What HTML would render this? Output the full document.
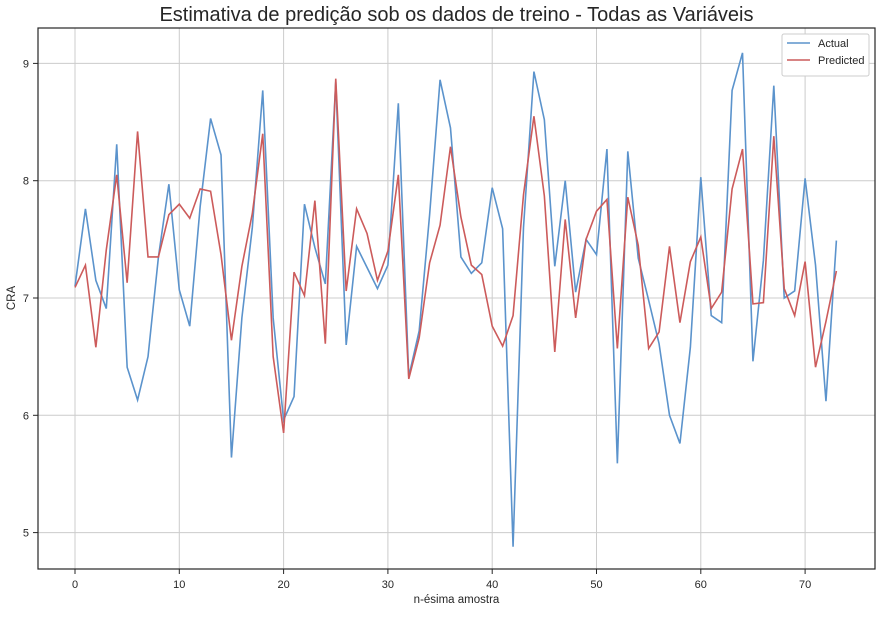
<!DOCTYPE html>
<html><head><meta charset="utf-8"><style>
body{margin:0;background:#fff;font-family:"Liberation Sans",sans-serif;}
svg text{font-family:"Liberation Sans",sans-serif;fill:#262626;}
</style></head><body>
<svg id="c" width="881" height="612"></svg>
<script>
const actual=[7.10,7.76,7.15,6.91,8.31,6.41,6.13,6.50,7.35,7.97,7.07,6.76,7.78,8.53,8.22,5.64,6.83,7.60,8.77,6.83,5.96,6.16,7.80,7.43,7.12,8.84,6.60,7.44,7.26,7.08,7.28,8.66,6.33,6.72,7.71,8.86,8.45,7.35,7.21,7.30,7.94,7.59,4.88,7.60,8.93,8.52,7.27,8.00,7.05,7.50,7.37,8.27,5.59,8.25,7.34,6.98,6.61,6.00,5.76,6.58,8.03,6.85,6.79,8.77,9.09,6.46,7.32,8.81,7.00,7.06,8.02,7.28,6.12,7.49];
const predicted=[7.09,7.28,6.58,7.41,8.05,7.13,8.42,7.35,7.35,7.71,7.80,7.68,7.93,7.91,7.37,6.64,7.27,7.72,8.40,6.50,5.85,7.22,7.02,7.83,6.61,8.87,7.06,7.76,7.55,7.15,7.40,8.05,6.31,6.66,7.30,7.62,8.29,7.69,7.28,7.20,6.76,6.59,6.85,7.88,8.55,7.87,6.54,7.67,6.83,7.50,7.74,7.84,6.57,7.86,7.45,6.57,6.71,7.44,6.79,7.31,7.52,6.91,7.05,7.93,8.27,6.95,6.96,8.38,7.08,6.85,7.31,6.41,6.80,7.23];
const xTicks=[0,10,20,30,40,50,60,70];
const yTicks=[5,6,7,8,9];
const svg=document.getElementById('c');const NS='http://www.w3.org/2000/svg';
const L=38,T=28,R=875,B=569;
const X=v=>75+v*10.43, Y=v=>298-(v-7)*117.3;
function mk(t,a,p){const e=document.createElementNS(NS,t);for(const k in a)e.setAttribute(k,a[k]);(p||svg).appendChild(e);return e;}
xTicks.forEach(t=>{const g=mk('line',{x1:X(t),x2:X(t),y1:T,y2:B,stroke:'#cccccc','stroke-width':1});


mk('line',{x1:X(t),x2:X(t),y1:B,y2:B+5,stroke:'#262626'});
const tx=mk('text',{x:X(t),y:B+19,'text-anchor':'middle','font-size':11});tx.textContent=t;

});
yTicks.forEach(t=>{const g=mk('line',{x1:L,x2:R,y1:Y(t),y2:Y(t),stroke:'#cccccc','stroke-width':1});


mk('line',{x1:L-5,x2:L,y1:Y(t),y2:Y(t),stroke:'#262626'});
const tx=mk('text',{x:L-9,y:Y(t)+4,'text-anchor':'end','font-size':11});tx.textContent=t;

});
function line(arr,col,name){const p=mk('polyline',{points:arr.map((v,i)=>X(i)+','+Y(v)).join(' '),fill:'none',stroke:col,'stroke-width':1.6});

}
line(actual,'#5b93cc','actual-line');
line(predicted,'#cc5b5b','predicted-line');
const fr=mk('rect',{x:L,y:T,width:R-L,height:B-T,fill:'none',stroke:'#262626','stroke-width':1.2});


const ti=mk('text',{x:(L+R)/2,y:21,'text-anchor':'middle','font-size':20});ti.textContent='Estimativa de predição sob os dados de treino - Todas as Variáveis';


const xl=mk('text',{x:(L+R)/2,y:603,'text-anchor':'middle','font-size':11.5});xl.textContent='n-ésima amostra';


const yl=mk('text',{x:0,y:0,'text-anchor':'middle','font-size':11.5,transform:'translate(15,298) rotate(-90)'});yl.textContent='CRA';


const lg=mk('g',{});


mk('rect',{x:782,y:34,width:87,height:42,fill:'#fff',stroke:'#cccccc',rx:2},lg);
[['Actual','#5b93cc',48],['Predicted','#cc5b5b',65]].forEach(([n,c,y])=>{mk('line',{x1:787,x2:810,y1:y-5,y2:y-5,stroke:c,'stroke-width':1.6},lg);
const t=mk('text',{x:818,y:y-1,'font-size':11},lg);t.textContent=n;

});
</script>
</body></html>
